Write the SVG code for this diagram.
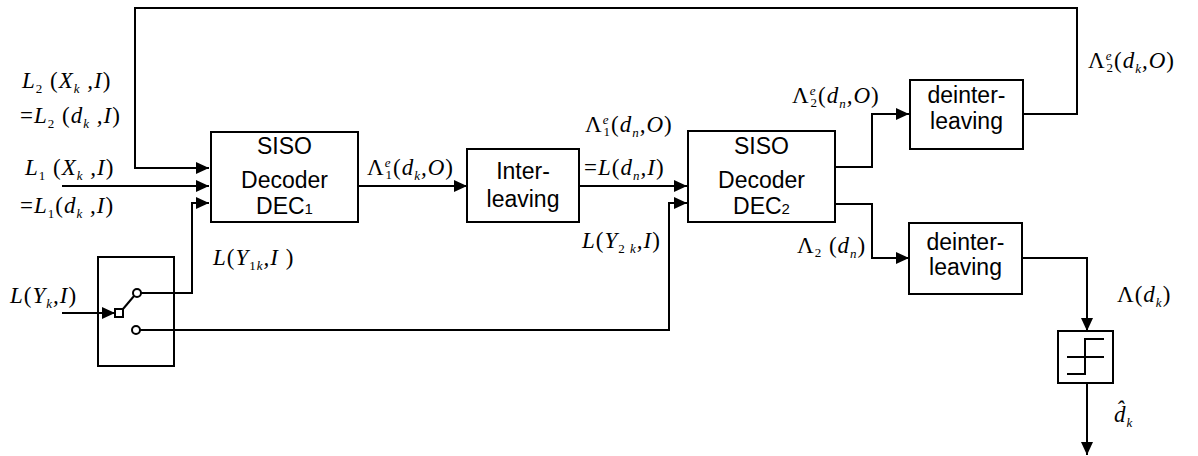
<svg xmlns="http://www.w3.org/2000/svg" width="1198" height="456" viewBox="0 0 1198 456">
<style>
.ln{fill:none;stroke:#000;stroke-width:2}
.box{fill:#fff;stroke:#000;stroke-width:2}
.bt{font-family:"Liberation Sans",Arial,sans-serif;font-size:23px;text-anchor:middle;fill:#000}
.mt{font-family:"Liberation Serif","Times New Roman",serif;font-style:italic;font-size:23px;letter-spacing:1px;fill:#000}
.u{font-style:normal}
.s{font-size:13px}
</style>
<defs>
<marker id="ah" markerUnits="userSpaceOnUse" markerWidth="14" markerHeight="12" refX="13" refY="6" orient="auto">
<path d="M0,0 L13,6 L0,12 z" fill="#000"/>
</marker>
</defs>
<rect width="1198" height="456" fill="#fff"/>
<g id="connectors">
<path class="ln" d="M1023,114 H1077 V8 H135 V168 H209" marker-end="url(#ah)"/>
<path class="ln" d="M62,186 H209" marker-end="url(#ah)"/>
<path class="ln" d="M141,293 H192 V203 H209" marker-end="url(#ah)"/>
<path class="ln" d="M62,313 H115" marker-end="url(#ah)"/>
<path class="ln" d="M140,330 H669 V203 H687" marker-end="url(#ah)"/>
<path class="ln" d="M358,186 H467" marker-end="url(#ah)"/>
<path class="ln" d="M579,186 H687" marker-end="url(#ah)"/>
<path class="ln" d="M835,167 H872 V114 H909" marker-end="url(#ah)"/>
<path class="ln" d="M835,204 H872 V258 H909" marker-end="url(#ah)"/>
<path class="ln" d="M1022,258 H1087 V331" marker-end="url(#ah)"/>
<path class="ln" d="M1087,383 V455" marker-end="url(#ah)"/>
</g>
<g id="switch">
<rect class="ln" x="98" y="257" width="76" height="109"/>
<rect x="115" y="309" width="8" height="8" fill="#fff" stroke="#000" stroke-width="2"/>
<line class="ln" x1="123" y1="309" x2="134" y2="296"/>
<circle cx="137" cy="293" r="4" fill="#fff" stroke="#000" stroke-width="2"/>
<circle cx="136" cy="330" r="4" fill="#fff" stroke="#000" stroke-width="2"/>
</g>
<g id="dec1">
<rect class="box" x="211" y="132" width="147" height="90"/>
<text class="bt" x="284.5" y="154">SISO</text>
<text class="bt" x="284.5" y="188">Decoder</text>
<text class="bt" x="284.5" y="214">DEC<tspan font-size="15">1</tspan></text>
</g>
<g id="interleaving">
<rect class="box" x="467" y="149" width="112" height="73"/>
<text class="bt" x="523" y="179">Inter-</text>
<text class="bt" x="523" y="207">leaving</text>
</g>
<g id="dec2">
<rect class="box" x="688" y="131" width="147" height="91"/>
<text class="bt" x="761.5" y="154">SISO</text>
<text class="bt" x="761.5" y="188">Decoder</text>
<text class="bt" x="761.5" y="214">DEC<tspan font-size="15">2</tspan></text>
</g>
<g id="deinterleaving1">
<rect class="box" x="910" y="80" width="113" height="69"/>
<text class="bt" x="966.5" y="103">deinter-</text>
<text class="bt" x="966.5" y="129">leaving</text>
</g>
<g id="deinterleaving2">
<rect class="box" x="909" y="223" width="113" height="71"/>
<text class="bt" x="965.5" y="250">deinter-</text>
<text class="bt" x="965.5" y="275">leaving</text>
</g>
<g id="decision">
<rect class="box" x="1058" y="331" width="55" height="52"/>
<path class="ln" d="M1067,357 H1104 M1067,374 H1085 V339 H1104"/>
</g>
<g id="labels">
<text class="mt" x="22" y="88">L<tspan class="s u" dy="5">2</tspan><tspan class="u" dy="-5"> (</tspan>X<tspan class="s" dy="5">k</tspan><tspan dy="-5"> ,</tspan>I<tspan class="u">)</tspan></text>
<text class="mt" x="20" y="123"><tspan class="u">=</tspan>L<tspan class="s u" dy="5">2</tspan><tspan class="u" dy="-5"> (</tspan>d<tspan class="s" dy="5">k</tspan><tspan dy="-5"> ,</tspan>I<tspan class="u">)</tspan></text>
<text class="mt" x="25" y="175">L<tspan class="s u" dy="5">1</tspan><tspan class="u" dy="-5"> (</tspan>X<tspan class="s" dy="5">k</tspan><tspan dy="-5"> ,</tspan>I<tspan class="u">)</tspan></text>
<text class="mt" x="20" y="213"><tspan class="u">=</tspan>L<tspan class="s u" dy="5">1</tspan><tspan class="u" dy="-5">(</tspan>d<tspan class="s" dy="5">k</tspan><tspan dy="-5"> ,</tspan>I<tspan class="u">)</tspan></text>
<text class="mt" x="10" y="303">L<tspan class="u">(</tspan>Y<tspan class="s" dy="5">k</tspan><tspan dy="-5">,</tspan>I<tspan class="u">)</tspan></text>
<text class="mt" x="213" y="265">L<tspan class="u">(</tspan>Y<tspan class="s u" dy="5">1</tspan><tspan class="s" >k</tspan><tspan dy="-5">,</tspan>I<tspan class="u"> )</tspan></text>
<text class="mt" x="367" y="175"><tspan class="u">Λ</tspan><tspan class="s" dy="-8">e</tspan><tspan class="s u" dx="-6" dy="12">1</tspan><tspan class="u" dy="-4">(</tspan>d<tspan class="s" dy="5">k</tspan><tspan dy="-5">,</tspan>O<tspan class="u">)</tspan></text>
<text class="mt" x="585" y="132"><tspan class="u">Λ</tspan><tspan class="s" dy="-8">e</tspan><tspan class="s u" dx="-6" dy="12">1</tspan><tspan class="u" dy="-4">(</tspan>d<tspan class="s" dy="5">n</tspan><tspan dy="-5">,</tspan>O<tspan class="u">)</tspan></text>
<text class="mt" x="584" y="175"><tspan class="u">=</tspan>L<tspan class="u">(</tspan>d<tspan class="s" dy="5">n</tspan><tspan dy="-5">,</tspan>I<tspan class="u">)</tspan></text>
<text class="mt" x="582" y="248">L<tspan class="u">(</tspan>Y<tspan class="s u" dy="5">2</tspan><tspan class="s"> k</tspan><tspan dy="-5">,</tspan>I<tspan class="u">)</tspan></text>
<text class="mt" x="792" y="103"><tspan class="u">Λ</tspan><tspan class="s" dy="-8">e</tspan><tspan class="s u" dx="-6" dy="12">2</tspan><tspan class="u" dy="-4">(</tspan>d<tspan class="s" dy="5">n</tspan><tspan dy="-5">,</tspan>O<tspan class="u">)</tspan></text>
<text class="mt" x="797" y="253"><tspan class="u">Λ</tspan><tspan class="s u" dy="4">2</tspan><tspan class="u" dy="-4"> (</tspan>d<tspan class="s" dy="5">n</tspan><tspan class="u" dy="-5">)</tspan></text>
<text class="mt" x="1088" y="68"><tspan class="u">Λ</tspan><tspan class="s" dy="-8">e</tspan><tspan class="s u" dx="-6" dy="12">2</tspan><tspan class="u" dy="-4">(</tspan>d<tspan class="s" dy="5">k</tspan><tspan dy="-5">,</tspan>O<tspan class="u">)</tspan></text>
<text class="mt" x="1117" y="302"><tspan class="u">Λ(</tspan>d<tspan class="s" dy="5">k</tspan><tspan class="u" dy="-5">)</tspan></text>
<text class="mt" x="1114" y="422">d̂<tspan class="s" dy="5">k</tspan></text>
</g>
</svg>
